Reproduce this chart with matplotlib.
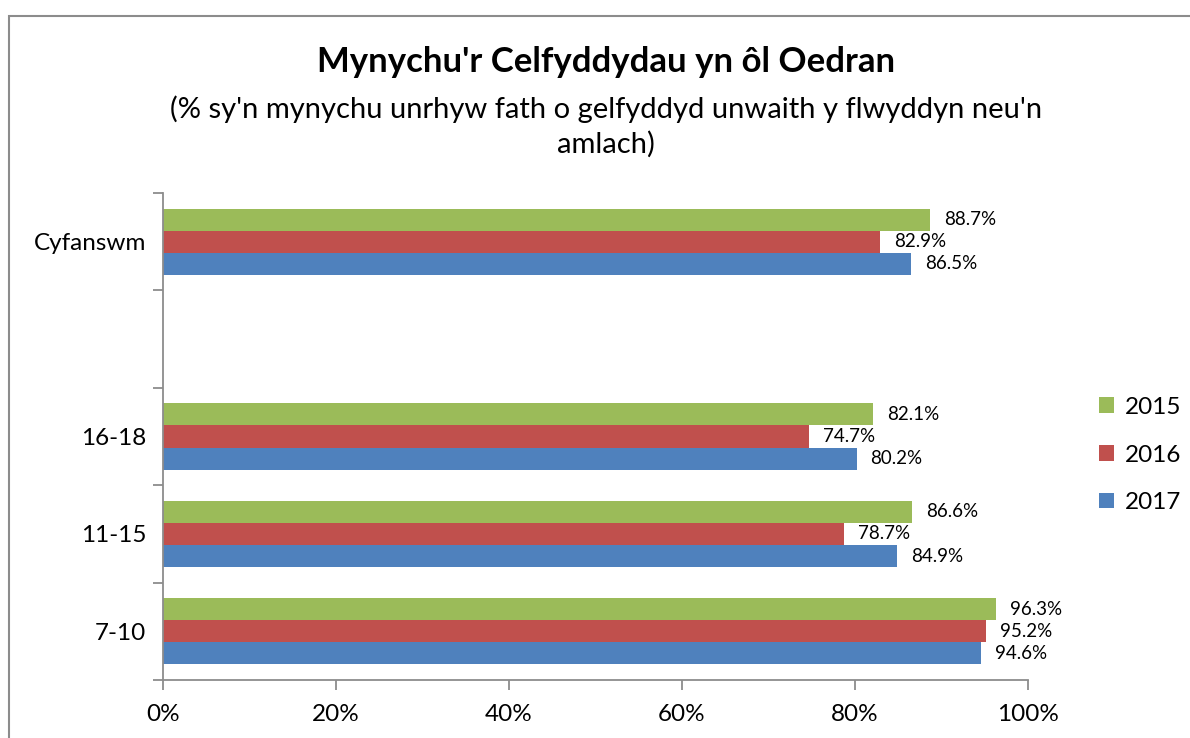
import numpy as np
import matplotlib.pyplot as plt
from matplotlib.patches import Rectangle
from matplotlib.ticker import FixedLocator, FuncFormatter

plt.rcParams["font.family"] = ["Lato", "DejaVu Sans"]

categories = ["7-10", "11-15", "16-18", "", "Cyfanswm"]
years = ["2017", "2016", "2015"]
values_2017 = [94.6, 84.9, 80.2, np.nan, 86.5]
values_2016 = [95.2, 78.7, 74.7, np.nan, 82.9]
values_2015 = [96.3, 86.6, 82.1, np.nan, 88.7]
colors = {"2017": "#4f81bd", "2016": "#c0504d", "2015": "#9bbb59"}

fig = plt.figure(figsize=(11.9, 7.38), dpi=100)
fig.patch.set_facecolor("white")
fig.add_artist(Rectangle((9 / 1190, -0.05), 1.2, 1 - 16 / 738 + 0.05, transform=fig.transFigure,
                         fill=False, edgecolor="#8c8c8c", linewidth=1.5))

ax = fig.add_axes([163 / 1190, 1 - 680 / 738, (1028 - 163) / 1190, (680 - 193) / 738])

y = np.arange(len(categories))
h = 0.227
series = [("2017", values_2017, -h), ("2016", values_2016, 0.0), ("2015", values_2015, h)]
for name, vals, off in series:
    ax.barh(y + off, vals, height=h, color=colors[name], label=name, linewidth=0)
    for yi, v in zip(y, vals):
        if np.isnan(v):
            continue
        ax.annotate(f"{v:.1f}%", (v, yi + off), xytext=(10, 0), textcoords="offset points",
                    ha="left", va="center", fontsize=13.5, color="black")

ax.set_xlim(0, 100)
ax.set_ylim(-0.5, len(categories) - 0.5)
ax.xaxis.set_major_locator(FixedLocator([0, 20, 40, 60, 80, 100]))
ax.xaxis.set_major_formatter(FuncFormatter(lambda v, _: f"{v:.0f}%"))
ax.yaxis.set_major_locator(FixedLocator(np.arange(-0.5, len(categories), 1.0)))
ax.yaxis.set_major_formatter(FuncFormatter(lambda v, _: ""))
ax.yaxis.set_minor_locator(FixedLocator(y))
ax.set_yticklabels(categories, minor=True)
ax.tick_params(axis="y", which="minor", length=0, labelsize=17.5, pad=12)
ax.tick_params(axis="y", which="major", length=7, color="#8c8c8c", width=1.3)
ax.tick_params(axis="x", length=7, color="#8c8c8c", width=1.3, labelsize=17.5, pad=10)
for s in ["top", "right"]:
    ax.spines[s].set_visible(False)
for s in ["left", "bottom"]:
    ax.spines[s].set_color("#8c8c8c")
    ax.spines[s].set_linewidth(1.3)

handles, labels = ax.get_legend_handles_labels()
ax.legend(handles[::-1], labels[::-1], loc="center left", bbox_to_anchor=(1099 / 1190, 1 - 455 / 738),
          bbox_transform=fig.transFigure, frameon=False, fontsize=17.5, handlelength=0.6,
          handleheight=0.6, labelspacing=1.1, handletextpad=0.45, borderaxespad=0, borderpad=0)

fig.text(606 / 1190, 1 - 62 / 738, "Mynychu'r Celfyddydau yn ôl Oedran", ha="center", va="center",
         fontsize=25, fontweight="bold")
fig.text(606 / 1190, 1 - 109 / 738, "(% sy'n mynychu unrhyw fath o gelfyddyd unwaith y flwyddyn neu'n",
         ha="center", va="center", fontsize=21)
fig.text(606 / 1190, 1 - 144 / 738, "amlach)", ha="center", va="center", fontsize=21)

fig.savefig("out.png", dpi=100, facecolor="white")
